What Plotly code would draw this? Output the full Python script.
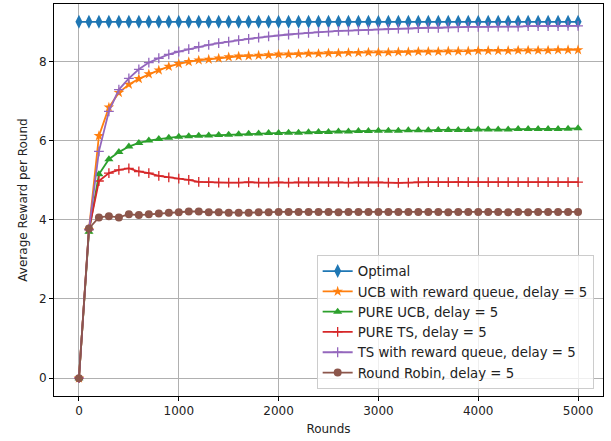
import plotly.graph_objects as go

rounds = [0, 100, 200, 300, 400, 500, 600, 700, 800, 900, 1000, 1100, 1200, 1300, 1400, 1500, 1600, 1700, 1800, 1900,
          2000, 2100, 2200, 2300, 2400, 2500, 2600, 2700, 2800, 2900, 3000, 3100, 3200, 3300, 3400, 3500, 3600, 3700,
          3800, 3900, 4000, 4100, 4200, 4300, 4400, 4500, 4600, 4700, 4800, 4900, 5000]

optimal = [9, 9, 9, 9, 9, 9, 9, 9, 9, 9, 9, 9, 9, 9, 9, 9, 9, 9, 9, 9, 9, 9, 9, 9, 9, 9,
           9, 9, 9, 9, 9, 9, 9, 9, 9, 9, 9, 9, 9, 9, 9, 9, 9, 9, 9, 9, 9, 9, 9, 9, 9]

ucb_queue = [0, 3.75, 6.12, 6.84, 7.21, 7.42, 7.56, 7.68, 7.78, 7.87, 7.94, 7.99, 8.03, 8.05, 8.08, 8.11, 8.13,
             8.14, 8.15, 8.16, 8.18, 8.18, 8.19, 8.2, 8.2, 8.21, 8.21, 8.22, 8.22, 8.23, 8.23, 8.23, 8.24, 8.24,
             8.25, 8.25, 8.25, 8.26, 8.26, 8.26, 8.27, 8.27, 8.27, 8.27, 8.28, 8.28, 8.28, 8.28, 8.29, 8.29, 8.29]

pure_ucb = [0, 3.7, 5.15, 5.53, 5.71, 5.85, 5.94, 6.0, 6.04, 6.07, 6.1, 6.11, 6.12, 6.13, 6.14, 6.15, 6.16, 6.17,
            6.18, 6.19, 6.19, 6.2, 6.2, 6.21, 6.22, 6.22, 6.23, 6.23, 6.24, 6.24, 6.25, 6.25, 6.25, 6.26, 6.26,
            6.26, 6.27, 6.27, 6.27, 6.27, 6.28, 6.28, 6.28, 6.28, 6.29, 6.29, 6.29, 6.29, 6.29, 6.3, 6.31]

pure_ts = [0, 3.75, 4.98, 5.18, 5.26, 5.3, 5.22, 5.18, 5.11, 5.07, 5.04, 5.01, 4.96, 4.95, 4.94, 4.94, 4.94, 4.95,
           4.94, 4.94, 4.95, 4.94, 4.95, 4.95, 4.95, 4.95, 4.95, 4.94, 4.95, 4.95, 4.95, 4.94, 4.93, 4.94, 4.95,
           4.95, 4.95, 4.95, 4.96, 4.95, 4.95, 4.95, 4.95, 4.95, 4.95, 4.95, 4.95, 4.95, 4.95, 4.95, 4.95]

ts_queue = [0, 3.75, 5.73, 6.74, 7.29, 7.57, 7.8, 7.97, 8.08, 8.18, 8.25, 8.31, 8.37, 8.42, 8.46, 8.5, 8.54, 8.57,
            8.6, 8.63, 8.66, 8.68, 8.7, 8.72, 8.74, 8.75, 8.77, 8.78, 8.79, 8.8, 8.81, 8.82, 8.83, 8.83, 8.84,
            8.85, 8.85, 8.86, 8.86, 8.87, 8.87, 8.87, 8.88, 8.88, 8.88, 8.89, 8.89, 8.89, 8.89, 8.9, 8.9]

round_robin = [0, 3.78, 4.06, 4.09, 4.06, 4.14, 4.12, 4.14, 4.16, 4.18, 4.19, 4.21, 4.21, 4.19, 4.19, 4.18, 4.18,
               4.18, 4.19, 4.19, 4.2, 4.2, 4.2, 4.2, 4.2, 4.2, 4.19, 4.2, 4.2, 4.2, 4.2, 4.2, 4.2, 4.2, 4.2, 4.2,
               4.2, 4.19, 4.2, 4.2, 4.2, 4.2, 4.2, 4.19, 4.2, 4.19, 4.2, 4.2, 4.2, 4.2, 4.2]

series_names = ["Optimal", "UCB with reward queue, delay = 5", "PURE UCB, delay = 5",
                "PURE TS, delay = 5", "TS with reward queue, delay = 5", "Round Robin, delay = 5"]
series_values = [optimal, ucb_queue, pure_ucb, pure_ts, ts_queue, round_robin]
colors = ["#1f77b4", "#ff7f0e", "#2ca02c", "#d62728", "#9467bd", "#8c564b"]
symbols = ["diamond-tall", "star", "triangle-up", "cross-thin", "cross-thin", "circle"]
sizes = [10, 8, 8, 7, 7, 8]

fig = go.Figure()
for name, vals, c, s, sz in zip(series_names, series_values, colors, symbols, sizes):
    thin = s == "cross-thin"
    fig.add_trace(go.Scatter(
        x=rounds, y=vals, name=name, mode="lines+markers",
        line=dict(color=c, width=1.8),
        marker=dict(symbol=s, size=sz, color=c,
                    line=dict(color=c, width=1.3 if thin else 0)),
    ))

axis_common = dict(
    showline=True, linecolor="black", linewidth=1, mirror=True,
    showgrid=True, gridcolor="#b0b0b0", gridwidth=1,
    ticks="outside", ticklen=4, tickcolor="black",
    zeroline=False, tickfont=dict(size=12, color="#222"), automargin=False,
)

fig.update_layout(
    width=611, height=441,
    margin=dict(l=54, r=8, t=4, b=45),
    paper_bgcolor="white", plot_bgcolor="white",
    font=dict(family="DejaVu Sans", size=12, color="#222"),
    xaxis=dict(range=[-250, 5250], tickvals=[0, 1000, 2000, 3000, 4000, 5000],
               title=dict(text="Rounds", font=dict(size=12), standoff=7), **axis_common),
    yaxis=dict(range=[-0.45, 9.45], tickvals=[0, 2, 4, 6, 8],
               title=dict(text="Average Reward per Round", font=dict(size=12), standoff=8), **axis_common),
    legend=dict(x=0.983, y=0.018, xanchor="right", yanchor="bottom",
                bgcolor="rgba(255,255,255,0.8)", bordercolor="#cccccc", borderwidth=1,
                font=dict(size=13.3, color="#222"), tracegroupgap=0, itemwidth=30),
    showlegend=True,
)

fig.write_html("out.html", config={"displayModeBar": False},
               post_script="document.body.style.margin='0';document.body.style.padding='0';")
